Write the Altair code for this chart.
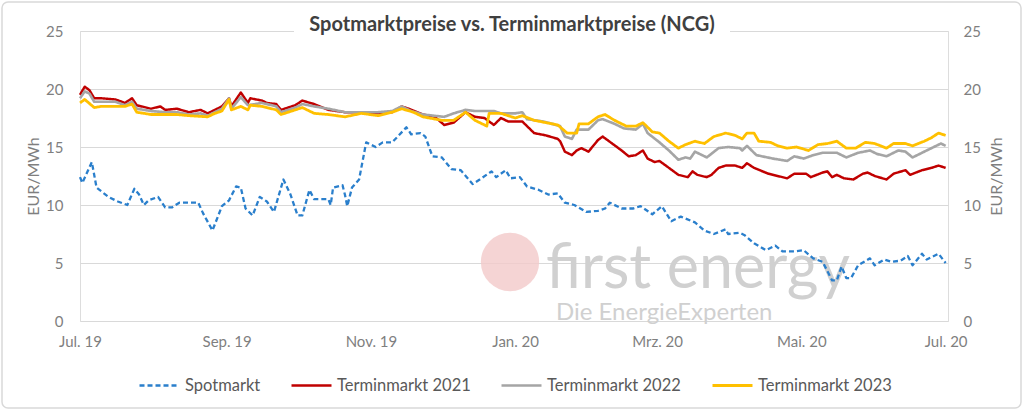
import altair as alt
import pandas as pd

START = "2019-07-01"
TITLE = "Spotmarktpreise vs. Terminmarktpreise (NCG)"
Y_TITLE = "EUR/MWh"
series_names = ["Spotmarkt", "Terminmarkt 2021", "Terminmarkt 2022", "Terminmarkt 2023"]
series_colors = ["#2a7fcc", "#c00000", "#a5a5a5", "#ffc000"]
y_ticks = [0, 5, 10, 15, 20, 25]
month_names = ["Jan.", "Feb.", "Mrz.", "Apr.", "Mai.", "Jun.", "Jul.", "Aug.", "Sep.", "Okt.", "Nov.", "Dez."]
x_tick_months = [(2019, 7), (2019, 9), (2019, 11), (2020, 1), (2020, 3), (2020, 5), (2020, 7)]

# (days since 2019-07-01, EUR/MWh)
spot = [(0,12.4),(1,11.9),(5,13.7),(7,11.5),(12,10.7),(16,10.3),(20,10.0),(23,11.4),(25,10.9),(27,10.0),
        (29,10.4),(33,10.7),(36,9.8),(39,9.8),(42,10.2),(46,10.2),(50,10.2),(52,9.3),(56,7.8),(60,9.9),
        (63,10.4),(66,11.6),(68,11.5),(70,9.7),(73,9.1),(76,10.7),(79,10.3),(82,9.4),(86,12.2),(89,10.9),
        (92,9.1),(94,9.1),(97,11.3),(99,10.5),(105,10.5),(106,10.0),(107,11.5),(111,11.7),(112,10.9),(113,9.9),
        (115,11.5),(118,12.2),(121,15.4),(125,15.0),(128,15.4),(132,15.4),(138,16.7),(140,16.1),(144,16.2),(146,15.9),
        (149,14.2),(153,14.1),(157,13.1),(161,13.0),(166,11.8),(169,12.2),(174,12.9),(176,12.4),(180,13.0),(182,12.3),
        (186,12.4),(189,11.6),(194,11.3),(198,10.9),(202,11.0),(205,10.2),(209,10.0),(214,9.4),(219,9.5),(222,9.7),
        (224,10.2),(229,9.7),(234,9.7),(237,9.9),(242,9.2),(246,9.9),(250,8.6),(254,9.0),(260,8.5),(264,7.8),
        (268,7.5),(273,7.9),(274,7.5),(279,7.6),(281,7.4),(285,6.7),(290,6.1),(294,6.5),(297,6.0),(302,6.0),
        (306,6.1),(310,5.4),(314,5.1),(318,3.5),(320,3.5),(322,4.7),(324,3.7),(326,3.7),(329,4.8),(334,5.4),
        (336,4.8),(340,5.3),(343,5.1),(347,5.2),(350,5.6),(352,4.8),(356,5.8),(358,5.3),(363,5.8),(366,5.0)]

termin_2021 = [(0,19.5),(2,20.2),(4,19.9),(6,19.2),(9,19.2),(15,19.1),(19,18.8),(22,19.2),(24,18.6),(30,18.3),
        (34,18.5),(36,18.2),(41,18.3),(46,18.0),(51,18.2),(54,17.9),(57,18.2),(60,18.5),(63,19.2),(64,18.5),
        (68,19.7),(71,18.8),(72,19.2),(77,19.0),(79,18.8),(83,18.7),(85,18.2),(91,18.6),(94,19.0),(99,18.7),
        (105,18.2),(112,18.0),(119,18.0),(126,17.9),(132,18.0),(136,18.5),(139,18.3),(145,17.8),(150,17.6),(154,16.9),
        (158,17.1),(163,18.0),(167,17.6),(171,17.5),(175,16.9),(178,17.5),(181,17.2),(184,17.2),(187,17.2),(189,16.8),
        (192,16.2),(197,16.0),(202,15.7),(203,15.5),(205,14.6),(208,14.3),(210,14.7),(212,14.9),(215,14.6),(219,15.6),
        (221,15.9),(225,15.3),(229,14.7),(232,14.2),(235,14.3),(238,14.7),(240,14.0),(243,13.7),(245,13.8),(249,13.2),
        (253,12.6),(257,12.4),(259,12.9),(261,12.6),(265,12.4),(267,12.6),(270,13.2),(273,13.4),(277,13.4),(280,13.2),
        (282,13.6),(285,13.2),(291,12.7),(299,12.3),(302,12.7),(307,12.7),(309,12.4),(314,12.8),(316,12.9),(318,12.4),
        (320,12.6),(323,12.3),(327,12.2),(331,12.7),(333,12.8),(336,12.5),(341,12.2),(344,12.7),(349,13.0),(351,12.6),
        (356,13.0),(360,13.2),(363,13.4),(366,13.2)]

termin_2022 = [(0,19.2),(2,19.8),(4,19.6),(6,18.9),(9,18.9),(15,18.9),(19,18.6),(22,18.9),(24,18.3),(30,18.1),
        (36,18.0),(41,18.0),(46,17.8),(51,17.9),(54,17.7),(57,18.0),(60,18.3),(63,19.2),(64,18.3),(68,19.3),
        (71,18.6),(77,18.8),(83,18.5),(85,18.0),(91,18.4),(94,18.7),(99,18.5),(105,18.3),(112,18.0),(119,18.0),
        (126,18.0),(132,18.1),(136,18.5),(140,18.1),(145,17.8),(154,17.6),(158,17.9),(163,18.2),(167,18.1),(175,18.1),
        (178,17.9),(184,17.9),(187,18.0),(189,17.4),(196,17.2),(203,16.8),(205,15.9),(208,15.7),(210,16.5),(215,16.5),
        (219,17.3),(221,17.4),(226,17.0),(230,16.6),(235,16.5),(238,17.0),(240,16.2),(245,15.4),(249,14.7),(253,13.9),
        (256,14.1),(258,14.0),(260,14.6),(263,14.3),(265,14.1),(270,14.9),(274,15.0),(279,14.9),(280,14.7),(282,15.1),
        (286,14.3),(293,14.0),(299,13.8),(302,14.2),(306,14.0),(310,14.3),(314,14.5),(320,14.5),(324,14.1),(329,14.5),
        (334,14.7),(337,14.4),(341,14.2),(346,14.7),(349,14.6),(352,14.1),(356,14.5),(361,15.0),(364,15.3),(366,15.1)]

termin_2023 = [(0,18.8),(2,19.1),(6,18.4),(9,18.5),(15,18.5),(19,18.5),(22,18.7),(24,18.0),(30,17.8),(41,17.8),
        (46,17.7),(54,17.6),(57,17.9),(60,18.1),(63,19.1),(64,18.2),(68,18.5),(71,18.2),(72,18.6),(77,18.5),
        (83,18.2),(85,17.8),(91,18.2),(94,18.4),(99,17.9),(105,17.8),(112,17.6),(119,17.9),(126,17.7),(132,18.0),
        (136,18.3),(141,18.0),(145,17.6),(153,17.3),(158,17.3),(163,18.0),(167,17.3),(172,16.8),(173,17.9),(178,17.9),
        (181,17.7),(184,17.5),(187,17.7),(192,17.3),(202,16.9),(206,16.2),(210,16.2),(211,17.0),(215,17.0),(219,17.6),
        (222,17.8),(226,17.3),(231,16.8),(235,16.8),(238,17.1),(242,16.3),(245,16.2),(249,15.5),(253,14.9),(256,15.2),
        (260,15.5),(264,15.3),(268,15.9),(273,16.2),(277,16.0),(280,15.7),(282,16.2),(285,16.2),(287,15.5),(292,15.4),
        (295,15.1),(299,14.9),(303,15.0),(308,14.7),(312,15.2),(316,15.3),(320,15.5),(324,14.9),(328,14.9),(332,15.4),
        (336,15.3),(341,14.9),(344,15.3),(349,15.3),(352,15.1),(357,15.5),(360,15.8),(363,16.2),(366,16.0)]


def frame(name, pairs):
    days = [p[0] for p in pairs]
    vals = [p[1] for p in pairs]
    dates = (pd.Timestamp(START) + pd.to_timedelta(days, unit="D")).strftime("%Y-%m-%d")
    return pd.DataFrame({"datum": list(dates), "wert": vals, "serie": name})


df = pd.concat([frame(n, s) for n, s in zip(series_names, [spot, termin_2021, termin_2022, termin_2023])],
               ignore_index=True)

FONT = "Lato"
GREY = "#7f7f7f"
W, H = 868, 290

x_enc = alt.X(
    "datum:T",
    scale=alt.Scale(type="utc", domain=[alt.DateTime(year=2019, month=7, date=1, utc=True),
                                        alt.DateTime(year=2020, month=7, date=2, utc=True)]),
    axis=alt.Axis(
        values=[alt.DateTime(year=y, month=m, date=1, utc=True) for y, m in x_tick_months],
        labelExpr="[" + ",".join("'%s'" % m for m in month_names) + "][utcmonth(datum.value)] + ' ' + utcFormat(datum.value, '%y')",
        grid=False, domain=False, ticks=False, tickSize=0, labelPadding=13,
        labelFlush=False, labelOverlap=False, labelBound=False,
        labelFontSize=15, labelColor=GREY, labelFont=FONT,
    ),
    title=None,
)

legend = alt.Legend(
    orient="none", legendX=58, legendY=333, direction="horizontal", title=None,
    symbolType="stroke", symbolSize=1600, symbolStrokeWidth=2.8, gridAlign="each",
    labelFontSize=16.5, labelColor="#595959", labelFont=FONT, columnPadding=25, labelOffset=4,
)

lines = alt.Chart(df).mark_line(strokeJoin="round").encode(
    x=x_enc,
    y=alt.Y("wert:Q", scale=alt.Scale(domain=[0, 25]),
            axis=alt.Axis(values=y_ticks, grid=True, gridColor="#d9d9d9", gridWidth=1,
                          domain=False, ticks=False, tickSize=0, labelPadding=17,
                          labelFontSize=15, labelColor=GREY, labelFont=FONT,
                          title=Y_TITLE, titleX=-47, titleY=H / 2, titleAngle=270,
                          titleBaseline="middle", titleAlign="center", titleFont=FONT,
                          titleFontSize=16, titleFontWeight="normal", titleColor=GREY)),
    color=alt.Color("serie:N", scale=alt.Scale(domain=series_names, range=series_colors), legend=legend),
    strokeDash=alt.StrokeDash("serie:N", scale=alt.Scale(domain=series_names,
                                                          range=[[5, 3], [1, 0], [1, 0], [1, 0]]), legend=legend),
    strokeWidth=alt.StrokeWidth("serie:N", scale=alt.Scale(domain=series_names, range=[2.3, 2.8, 2.8, 2.8]),
                                legend=None),
)

right_axis = alt.Chart(df).mark_line(opacity=0).encode(
    x=x_enc,
    y=alt.Y("wert:Q", scale=alt.Scale(domain=[0, 25]),
            axis=alt.Axis(orient="right", values=y_ticks, grid=False, domain=False, ticks=False, tickSize=0,
                          labelPadding=15, labelFontSize=15, labelColor=GREY, labelFont=FONT,
                          title=Y_TITLE, titleX=48, titleY=H / 2, titleAngle=270,
                          titleBaseline="middle", titleAlign="center", titleFont=FONT,
                          titleFontSize=16, titleFontWeight="normal", titleColor=GREY)),
)

one = pd.DataFrame({"t": [TITLE]})

border = alt.Chart(one).mark_rect(fillOpacity=0, stroke="#d9d9d9", strokeWidth=1.5, cornerRadius=6).encode(
    x=alt.value(-78), x2=alt.value(941), y=alt.value(-29), y2=alt.value(377))

logo = alt.Chart(one).mark_circle(color="#f2c9c9", opacity=0.8, size=3400).encode(
    x=alt.value(430), y=alt.value(231))

wm1 = alt.Chart(pd.DataFrame({"t": ["first energy"]})).mark_text(
    font=FONT, fontSize=61, color="#d0d0d0", align="left", baseline="alphabetic").encode(
    text="t:N", x=alt.value(466), y=alt.value(257))
wm2 = alt.Chart(pd.DataFrame({"t": ["Die EnergieExperten"]})).mark_text(
    font=FONT, fontSize=24, color="#d0d0d0", align="left", baseline="alphabetic").encode(
    text="t:N", x=alt.value(476), y=alt.value(289))

title_bg = alt.Chart(one).mark_rect(color="white").encode(
    x=alt.value(214), x2=alt.value(650), y=alt.value(-14), y2=alt.value(5))
title = alt.Chart(one).mark_text(font=FONT, fontSize=20, fontWeight="bold", color="#404040",
                                 align="center", baseline="alphabetic").encode(
    text="t:N", x=alt.value(432), y=alt.value(0))

chart = alt.layer(border, logo, wm1, wm2, lines, right_axis, title_bg, title).resolve_scale(
    y="independent"
).properties(
    width=W, height=H,
    autosize=alt.AutoSizeParams(type="none"),
    padding={"left": 80, "top": 31, "right": 76, "bottom": 89},
).configure_view(stroke=None).configure(background="white")

chart.save("out.html", embed_options={"renderer": "svg", "actions": False})
